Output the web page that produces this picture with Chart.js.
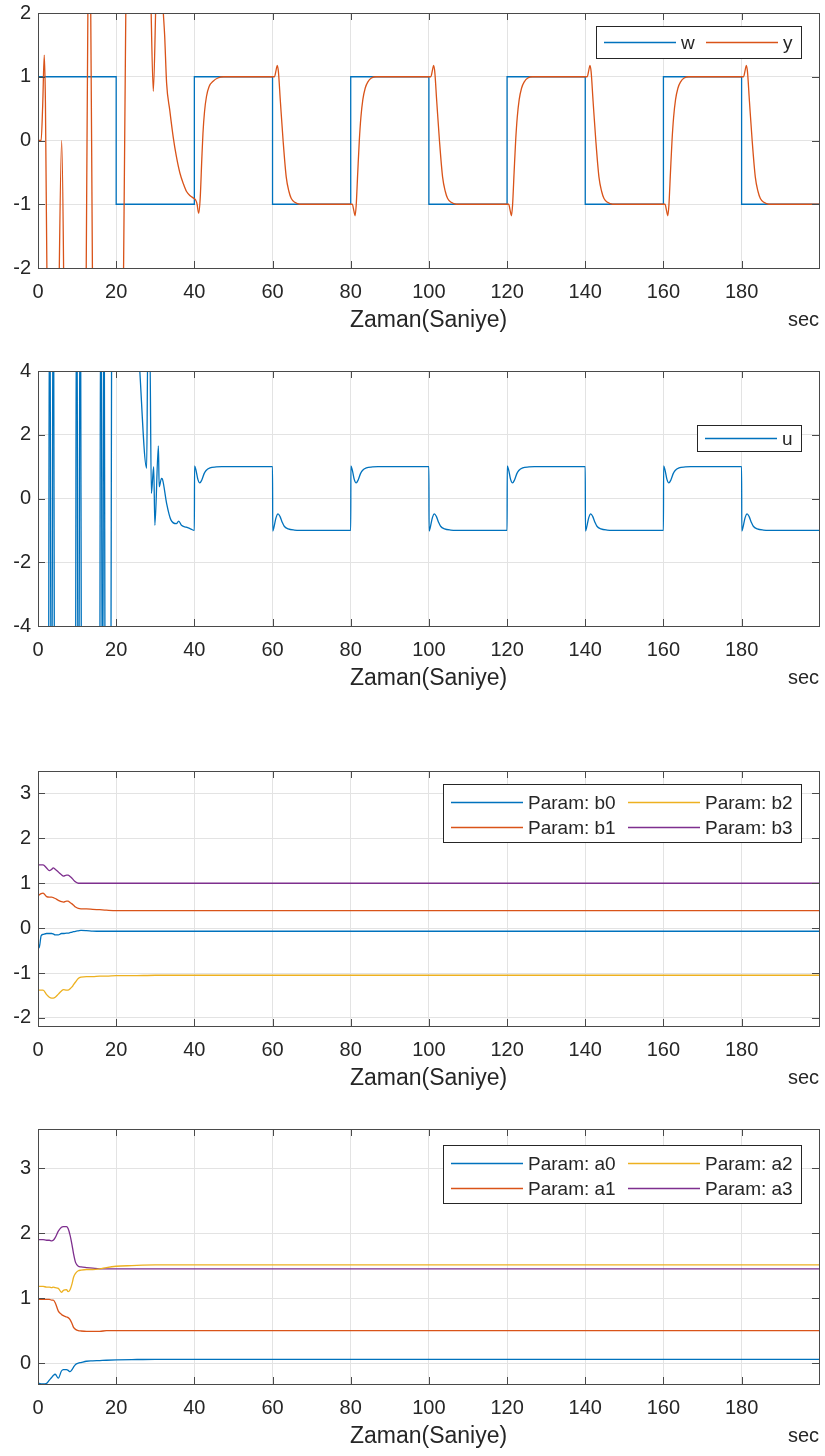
<!DOCTYPE html>
<html lang="tr">
<head>
<meta charset="UTF-8">
<title>Adaptif kontrol</title>
<script src="https://cdn.jsdelivr.net/npm/chart.js"></script>
<style>
    body { margin: 0; background: #fff; }
    .panel { position: absolute; left: 0; width: 825px; height: 340px; }
</style>
</head>
<body>

<div class="panel" style="top:0px"><canvas id="cOut" width="825" height="340"></canvas></div>
<div class="panel" style="top:358px"><canvas id="cIn" width="825" height="340"></canvas></div>
<div class="panel" style="top:758px"><canvas id="cB" width="825" height="340"></canvas></div>
<div class="panel" style="top:1116px"><canvas id="cA" width="825" height="340"></canvas></div>

<script>
// tick positions
var xTicks = [0, 20, 40, 60, 80, 100, 120, 140, 160, 180];
var yTicksOut = [-2, -1, 0, 1, 2];
var yTicksIn = [-4, -2, 0, 2, 4];
var yTicksB = [-2, -1, 0, 1, 2, 3];
var yTicksA = [0, 1, 2, 3];

// reference w (square wave)
var wTime = [0, 20, 20, 40, 40, 60, 60, 80, 80, 100, 100, 120, 120, 140, 140, 160, 160, 180, 180, 199.8];
var wVals = [1, 1, -1, -1, 1, 1, -1, -1, 1, 1, -1, -1, 1, 1, -1, -1, 1, 1, -1, -1];

// plant output y
var yTime = [
    0, 0.8, 1.2, 1.6, 1.9, 2.3, 2.7, 4.0, 5.0, 5.45, 6.05, 6.55, 7.0, 9.5, 12.0, 12.3, 12.8, 13.1, 13.45, 13.95,
    14.5, 18.0, 21.5, 21.85, 22.5, 23.2, 26.0, 28.3, 28.85, 29.5, 30.2, 31.0, 31.9, 32.4, 32.9, 33.7, 34.6, 35.4, 36.3, 37.2,
    38.0, 39.0, 39.7, 40.3, 40.7, 41.1, 41.5, 41.9, 42.2, 42.6, 43.1, 43.8, 44.8, 46.0, 47.5,
    60.0, 60.5, 60.9, 61.2, 61.5, 62.0, 62.7, 63.5, 64.2, 64.8, 65.7, 67.0,
    80.0, 80.4, 80.8, 81.1, 81.4, 81.8, 82.2, 82.6, 83.1, 83.7, 84.4, 85.3, 86.5,
    100.0, 100.5, 100.9, 101.2, 101.5, 102.0, 102.7, 103.5, 104.2, 104.8, 105.7, 107.0,
    120.0, 120.4, 120.8, 121.1, 121.4, 121.8, 122.2, 122.6, 123.1, 123.7, 124.4, 125.3, 126.5,
    140.0, 140.5, 140.9, 141.2, 141.5, 142.0, 142.7, 143.5, 144.2, 144.8, 145.7, 147.0,
    160.0, 160.4, 160.8, 161.1, 161.4, 161.8, 162.2, 162.6, 163.1, 163.7, 164.4, 165.3, 166.5,
    180.0, 180.5, 180.9, 181.2, 181.5, 182.0, 182.7, 183.5, 184.2, 184.8, 185.7, 187.0,
    199.8
];
var yVals = [
    0, 0, 0.55, 1.34, 0.6, -2.2, -6, -8, -5, -2.0, 0, -2.0, -6, -10, -5, -2.4, 2.4, 3.5, 2.4, -2.3,
    -6, -12, -4, -2.3, 2.3, 6, 8, 4, 2.3, 0.77, 2.3, 4, 2.2, 1.65, 0.9, 0.48, 0.05, -0.25, -0.51, -0.68,
    -0.80, -0.87, -0.90, -0.93, -1.0, -1.14, -0.9, -0.3, 0.11, 0.45, 0.69, 0.85, 0.93, 0.98, 1.0,
    1.0, 1.0, 1.1, 1.18, 1.08, 0.62, 0.0, -0.57, -0.8, -0.91, -0.97, -1.0,
    -1.0, -1.0, -1.1, -1.18, -1.02, -0.5, 0.0, 0.36, 0.64, 0.82, 0.92, 0.98, 1.0,
    1.0, 1.0, 1.1, 1.18, 1.08, 0.62, 0.0, -0.57, -0.8, -0.91, -0.97, -1.0,
    -1.0, -1.0, -1.1, -1.18, -1.02, -0.5, 0.0, 0.36, 0.64, 0.82, 0.92, 0.98, 1.0,
    1.0, 1.0, 1.1, 1.18, 1.08, 0.62, 0.0, -0.57, -0.8, -0.91, -0.97, -1.0,
    -1.0, -1.0, -1.1, -1.18, -1.02, -0.5, 0.0, 0.36, 0.64, 0.82, 0.92, 0.98, 1.0,
    1.0, 1.0, 1.1, 1.18, 1.08, 0.62, 0.0, -0.57, -0.8, -0.91, -0.97, -1.0,
    -1.0
];

// control signal u
var uTime = [
    0, 0.05, 0.25, 1.5, 2.7, 2.9, 3.1, 3.3, 3.6, 3.8, 4.0, 4.2, 6.5, 9.6, 9.8, 10.0, 10.2, 10.5, 10.7, 10.9,
    11.1, 13.5, 15.8, 16.0, 16.2, 16.4, 16.6, 16.8, 16.95, 17.15, 18.0, 18.65, 18.85, 22.0, 25.6, 27.8, 28.1, 28.6, 29.0, 29.6,
    29.9, 30.8, 31.0, 31.6, 31.85, 32.9, 34.0, 35.4, 36.0, 36.7, 37.9, 39.0, 40.0,
    40.05, 40.4, 40.9, 41.4, 41.9, 42.5, 43.0, 44.0, 45.6, 47.0,
    60.0, 60.05, 60.4, 60.9, 61.4, 61.9, 62.5, 63.0, 64.0, 65.6, 67.0,
    80.0, 80.05, 80.4, 80.9, 81.4, 81.9, 82.5, 83.0, 84.0, 85.6, 87.0,
    100.0, 100.05, 100.4, 100.9, 101.4, 101.9, 102.5, 103.0, 104.0, 105.6, 107.0,
    120.0, 120.05, 120.4, 120.9, 121.4, 121.9, 122.5, 123.0, 124.0, 125.6, 127.0,
    140.0, 140.05, 140.4, 140.9, 141.4, 141.9, 142.5, 143.0, 144.0, 145.6, 147.0,
    160.0, 160.05, 160.4, 160.9, 161.4, 161.9, 162.5, 163.0, 164.0, 165.6, 167.0,
    180.0, 180.05, 180.4, 180.9, 181.4, 181.9, 182.5, 183.0, 184.0, 185.6, 187.0,
    199.8
];
var uVals = [
    0, -3.4, -6, -7, -6, 6, 6, -6, -6, 6, 6, -6, -8, -6, 6, 6, -6, -6, 6, 6,
    -6, -8, -6, 6, 6, -6, -6, 6, 6, -6, -7, -6, 6, 8, 4.8, 0.95, 5, 5, 0.16, 1.0,
    -0.84, 1.65, 0.37, 0.63, 0.6, -0.15, -0.67, -0.79, -0.71, -0.84, -0.9, -0.95, -1.0,
    1.02, 0.9, 0.6, 0.49, 0.58, 0.78, 0.88, 0.96, 0.99, 1.0,
    1.0, -1.02, -0.88, -0.6, -0.48, -0.56, -0.75, -0.87, -0.95, -0.99, -1.0,
    -1.0, 1.02, 0.9, 0.6, 0.49, 0.58, 0.78, 0.88, 0.96, 0.99, 1.0,
    1.0, -1.02, -0.88, -0.6, -0.48, -0.56, -0.75, -0.87, -0.95, -0.99, -1.0,
    -1.0, 1.02, 0.9, 0.6, 0.49, 0.58, 0.78, 0.88, 0.96, 0.99, 1.0,
    1.0, -1.02, -0.88, -0.6, -0.48, -0.56, -0.75, -0.87, -0.95, -0.99, -1.0,
    -1.0, 1.02, 0.9, 0.6, 0.49, 0.58, 0.78, 0.88, 0.96, 0.99, 1.0,
    1.0, -1.02, -0.88, -0.6, -0.48, -0.56, -0.75, -0.87, -0.95, -0.99, -1.0,
    -1.0
];

// estimated parameters, shared time base
var paramTime = [0, 0.3, 0.8, 1.3, 2.2, 2.9, 3.5, 3.9, 4.4, 5.2, 6.0, 6.5, 7.3, 7.7, 8.2, 8.7, 9.1, 9.6, 10.3, 11.0, 12.4, 14.0, 15.8, 17.5, 20, 24, 30, 199.8];

var b0 = [-0.3, -0.44, -0.17, -0.14, -0.12, -0.12, -0.12, -0.13, -0.15, -0.15, -0.12, -0.12, -0.11, -0.11, -0.10, -0.09, -0.08, -0.07, -0.06, -0.05, -0.055, -0.065, -0.07, -0.07, -0.07, -0.07, -0.07, -0.07];
var b1 = [0.73, 0.74, 0.77, 0.78, 0.70, 0.69, 0.69, 0.68, 0.66, 0.62, 0.59, 0.58, 0.60, 0.60, 0.57, 0.54, 0.51, 0.47, 0.44, 0.43, 0.43, 0.42, 0.41, 0.40, 0.39, 0.39, 0.39, 0.39];
var b2 = [-1.39, -1.38, -1.38, -1.38, -1.48, -1.54, -1.56, -1.56, -1.54, -1.47, -1.40, -1.37, -1.38, -1.38, -1.35, -1.31, -1.26, -1.20, -1.12, -1.09, -1.08, -1.08, -1.07, -1.07, -1.06, -1.06, -1.05, -1.05];
var b3 = [1.41, 1.41, 1.41, 1.41, 1.34, 1.28, 1.31, 1.34, 1.31, 1.25, 1.19, 1.16, 1.18, 1.18, 1.15, 1.11, 1.07, 1.03, 1.0, 1.0, 1.0, 1.0, 1.0, 1.0, 1.0, 1.0, 1.0, 1.0];

var a0 = [-0.31, -0.31, -0.32, -0.32, -0.31, -0.26, -0.22, -0.19, -0.17, -0.23, -0.12, -0.10, -0.10, -0.11, -0.13, -0.10, -0.06, -0.02, 0.0, 0.01, 0.03, 0.035, 0.04, 0.045, 0.05, 0.055, 0.06, 0.06];
var a1 = [0.98, 0.98, 0.98, 0.98, 0.98, 0.98, 0.97, 0.97, 0.93, 0.80, 0.75, 0.73, 0.71, 0.70, 0.67, 0.61, 0.55, 0.52, 0.50, 0.495, 0.49, 0.49, 0.49, 0.50, 0.50, 0.50, 0.50, 0.50];
var a2 = [1.18, 1.18, 1.18, 1.18, 1.17, 1.17, 1.16, 1.17, 1.16, 1.15, 1.09, 1.12, 1.13, 1.10, 1.13, 1.22, 1.32, 1.38, 1.42, 1.43, 1.44, 1.44, 1.45, 1.47, 1.49, 1.50, 1.51, 1.51];
var a3 = [1.90, 1.90, 1.90, 1.90, 1.89, 1.89, 1.88, 1.89, 1.93, 2.03, 2.09, 2.10, 2.10, 2.07, 1.97, 1.82, 1.68, 1.55, 1.49, 1.48, 1.47, 1.46, 1.45, 1.45, 1.45, 1.45, 1.45, 1.45];

var FONT = '"Liberation Sans", Arial, Helvetica, sans-serif';
var TEXT = '#262626';
var C_BLUE = '#0072BD', C_RED = '#D95319', C_YEL = '#EDB120', C_PUR = '#7E2F8E';

Chart.defaults.font.family = FONT;
Chart.defaults.color = TEXT;

function series(label, color, times, vals, smooth) {
    return {
        label: label,
        data: times.map((t, i) => ({ x: t, y: vals[i] })),
        borderColor: color,
        borderWidth: 1.3,
        pointRadius: 0,
        fill: false,
        clip: 0,
        tension: 0,
        cubicInterpolationMode: smooth ? 'monotone' : 'default'
    };
}

// axes box, inward ticks, "sec" unit text and the boxed legend
var matlabAxes = {
    id: 'matlabAxes',
    afterDraw(chart, args, opts) {
        var ctx = chart.ctx, a = chart.chartArea;
        var xs = chart.scales.x, ys = chart.scales.y;
        var seg = (x1, y1, x2, y2) => { ctx.beginPath(); ctx.moveTo(x1, y1); ctx.lineTo(x2, y2); ctx.stroke(); };
        ctx.save();
        ctx.strokeStyle = '#4a4a4a';
        ctx.lineWidth = 1;
        ctx.strokeRect(Math.round(a.left) + 0.5, Math.round(a.top) + 0.5, Math.round(a.right - a.left), Math.round(a.bottom - a.top));
        xs.ticks.forEach(t => {
            var px = Math.round(xs.getPixelForValue(t.value)) + 0.5;
            seg(px, a.bottom, px, a.bottom - 7);
            seg(px, a.top, px, a.top + 7);
        });
        ys.ticks.forEach(t => {
            var py = Math.round(ys.getPixelForValue(t.value)) + 0.5;
            seg(a.left, py, a.left + 7, py);
            seg(a.right, py, a.right - 7, py);
        });

        ctx.fillStyle = TEXT;
        ctx.font = '20px ' + FONT;
        ctx.textAlign = 'right';
        ctx.textBaseline = 'middle';
        ctx.fillText('sec', a.right, a.bottom + 52);

        var lg = opts.legend;
        if (lg) {
            ctx.fillStyle = '#fff';
            ctx.fillRect(lg.x, lg.y, lg.w, lg.h);
            ctx.strokeStyle = '#262626';
            ctx.strokeRect(lg.x + 0.5, lg.y + 0.5, lg.w, lg.h);
            ctx.font = '19px ' + FONT;
            ctx.textAlign = 'left';
            chart.data.datasets.forEach((ds, i) => {
                var col = Math.floor(i / lg.rows), row = i % lg.rows;
                var x0 = lg.x + 8 + col * lg.colW;
                var yy = Math.round(lg.y + lg.first + row * lg.rowH) + 0.5;
                ctx.strokeStyle = ds.borderColor;
                ctx.lineWidth = 1.3;
                seg(x0, yy, x0 + 72, yy);
                ctx.fillStyle = TEXT;
                ctx.fillText(ds.label, x0 + 77, yy + 1);
            });
        }
        ctx.restore();
    }
};

// fixed scale box sizes so every panel gets the same plot area
function noPad(s) {
    s.paddingTop = 0;
    s.paddingBottom = 0;
    s.paddingLeft = 0;
    s.paddingRight = 0;
}

function panelOptions(yMin, yMax, yTicks, legend) {
    return {
        responsive: false,
        animation: false,
        events: [],
        layout: { padding: { top: 13, right: 6, bottom: 0, left: 0 }, autoPadding: false },
        plugins: {
            legend: { display: false },
            tooltip: { enabled: false },
            matlabAxes: { legend: legend }
        },
        scales: {
            x: {
                type: 'linear',
                min: 0,
                max: 199.8,
                afterBuildTicks: s => { s.ticks = xTicks.map(v => ({ value: v })); },
                ticks: { maxRotation: 0, autoSkip: false, padding: 12, color: TEXT, font: { size: 20 } },
                grid: { color: '#e3e3e3', drawTicks: false },
                border: { display: false },
                title: { display: true, text: 'Zaman(Saniye)', color: TEXT, font: { size: 23 }, padding: { top: 0, bottom: 6 } },
                afterFit: s => { s.height = 72; noPad(s); }
            },
            y: {
                type: 'linear',
                min: yMin,
                max: yMax,
                afterBuildTicks: s => { s.ticks = yTicks.map(v => ({ value: v })); },
                ticks: { padding: 7, color: TEXT, font: { size: 20 } },
                grid: { color: '#e3e3e3', drawTicks: false },
                border: { display: false },
                afterFit: s => { s.width = 38; noPad(s); }
            }
        }
    };
}

var outW = series('w', C_BLUE, wTime, wVals, false);
outW.order = 1;
var outY = series('y', C_RED, yTime, yVals, true);
outY.order = 0;

new Chart(document.getElementById('cOut'), {
    type: 'line',
    data: { datasets: [outW, outY] },
    options: panelOptions(-2, 2, yTicksOut, { x: 596, y: 26, w: 205, h: 32, rows: 1, colW: 102, first: 16, rowH: 0 }),
    plugins: [matlabAxes]
});

new Chart(document.getElementById('cIn'), {
    type: 'line',
    data: { datasets: [series('u', C_BLUE, uTime, uVals, true)] },
    options: panelOptions(-4, 4, yTicksIn, { x: 697, y: 67, w: 104, h: 26, rows: 1, colW: 102, first: 13, rowH: 0 }),
    plugins: [matlabAxes]
});

new Chart(document.getElementById('cB'), {
    type: 'line',
    data: {
        datasets: [
            series('Param: b0', C_BLUE, paramTime, b0, true),
            series('Param: b1', C_RED, paramTime, b1, true),
            series('Param: b2', C_YEL, paramTime, b2, true),
            series('Param: b3', C_PUR, paramTime, b3, true)
        ]
    },
    options: panelOptions(-2.18, 3.5, yTicksB, { x: 443, y: 26, w: 358, h: 58, rows: 2, colW: 177, first: 17.5, rowH: 25.6 }),
    plugins: [matlabAxes]
});

new Chart(document.getElementById('cA'), {
    type: 'line',
    data: {
        datasets: [
            series('Param: a0', C_BLUE, paramTime, a0, true),
            series('Param: a1', C_RED, paramTime, a1, true),
            series('Param: a2', C_YEL, paramTime, a2, true),
            series('Param: a3', C_PUR, paramTime, a3, true)
        ]
    },
    options: panelOptions(-0.32, 3.6, yTicksA, { x: 443, y: 29, w: 358, h: 58, rows: 2, colW: 177, first: 17.5, rowH: 25.6 }),
    plugins: [matlabAxes]
});
</script>

</body>
</html>
